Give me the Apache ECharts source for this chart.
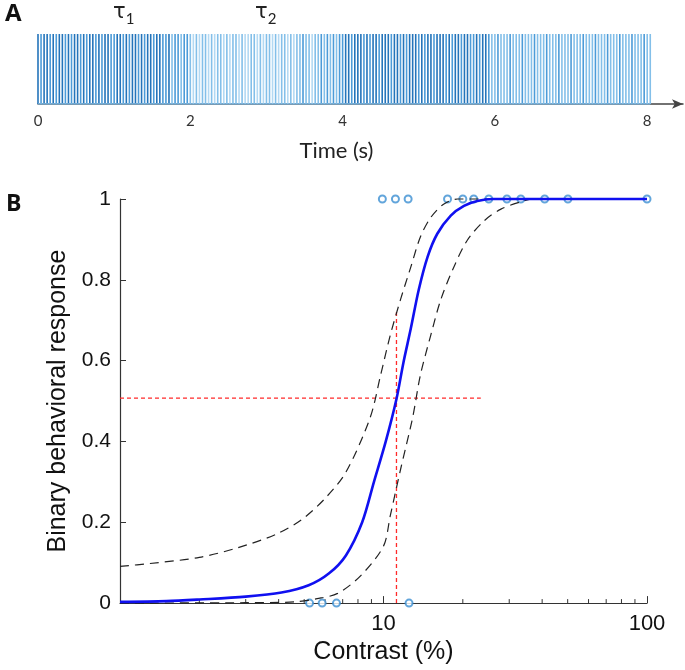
<!DOCTYPE html>
<html>
<head>
<meta charset="utf-8">
<script src="https://cdn.jsdelivr.net/npm/echarts@6/dist/echarts.min.js"></script>
<style>
  html, body { margin: 0; padding: 0; background: #fff; }
  #main { width: 685px; height: 670px; }
</style>
</head>
<body>
<div id="main"></div>
<script>
// panel A: spike train, one shade level per spike (0 light .. 3 dark), 25 Hz
var spikeDt = 0.04;
var spikeShade =
  '3233232332' + '3233232332' + '3233223323' + '2332323323' + '3223122122' +
  '1010110101' + '1010110100' + '1101011010' + '1101011211' + '0112121212' +
  '2332333232' + '3323332332' + '3233323233' + '2333232332' + '3322323321' +
  '1211121112' + '1112111211' + '1211121112' + '1112111211' + '1211121112' + '11';
var shadeColors = ['#b3d9f3', '#83bfe9', '#4c9bd8', '#2474ba'];
var timeTicks = [0, 2, 4, 6, 8];

// panel B: psychometric fit, contrast (%) vs response
var fitCurve = [[1, 0.003], [1.5, 0.005], [2, 0.009], [3, 0.016], [4.1, 0.026], [5.2, 0.044],
  [6.2, 0.073], [7.2, 0.118], [8.3, 0.2], [9.2, 0.3], [10.2, 0.4], [11.2, 0.505], [11.9, 0.595],
  [12.7, 0.68], [13.6, 0.775], [14.7, 0.857], [16, 0.914], [18, 0.959], [20.2, 0.983],
  [22.7, 0.995], [26, 1], [100, 1]];
var upperBound = [[1, 0.091], [1.3, 0.098], [2, 0.113], [2.8, 0.137], [3.9, 0.17], [4.9, 0.207],
  [6, 0.259], [7.2, 0.324], [8.9, 0.459], [9.75, 0.564], [10.6, 0.662], [11.6, 0.751],
  [12.7, 0.832], [13.8, 0.906], [15.1, 0.954], [16.9, 0.987], [19.1, 1], [100, 1]];
var lowerBound = [[1, 0], [3, 0.001], [4.6, 0.003], [5.6, 0.011], [6.7, 0.024], [8.2, 0.068],
  [10, 0.141], [10.6, 0.215], [11.6, 0.33], [12.9, 0.459], [13.8, 0.564], [15.1, 0.662],
  [16.5, 0.751], [18.5, 0.832], [20.8, 0.898], [24.1, 0.946], [27.9, 0.975], [33.2, 0.993],
  [37, 1], [100, 1]];
var hitContrast = [9.9, 11.1, 12.4, 17.5, 20, 22, 25.1, 29.4, 33.2, 40.9, 50.1, 100];
var missContrast = [5.24, 5.85, 6.63, 12.5];
var threshold = 11.2;
var thresholdLevel = 0.507;
var thresholdTop = 0.723;
var levelLineEnd = 23.4;
var minorTicks = [2, 3, 4, 5, 6, 7, 8, 9, 20, 30, 40, 50, 60, 70, 80, 90];

var spikes = [];
for (var i = 0; i < spikeShade.length; i++) {
  spikes.push({ value: [i * spikeDt, 1], itemStyle: { color: shadeColors[+spikeShade[i]] } });
}
var lastSpike = (spikeShade.length - 1) * spikeDt;

var dom = document.getElementById('main');
var myChart = echarts.init(dom);
var option;

option = {
  animation: false,
  backgroundColor: '#fff',
  grid: [
    { left: 38, right: 2, top: 34, bottom: 566 },
    { left: 120, right: 38, top: 199, bottom: 59 }
  ],
  xAxis: [
    {
      gridIndex: 0,
      type: 'value',
      min: 0,
      max: 8.47,
      interval: 2,
      offset: 3,
      splitLine: { show: false },
      axisTick: { show: false },
      axisLine: {
        lineStyle: { color: '#444', width: 1.5 },
        symbol: ['none', 'arrow'],
        symbolSize: [7, 11]
      },
      axisLabel: {
        showMaxLabel: false,
        margin: 7,
        color: '#333',
        fontFamily: 'Lato',
        fontSize: 15,
        formatter: function (v) { return timeTicks.indexOf(v) >= 0 ? String(v) : ''; }
      },
      name: 'Time (s)',
      nameLocation: 'middle',
      nameGap: 33,
      nameTextStyle: { color: '#222', fontFamily: 'Lato', fontSize: 22, padding: [0, 48, 0, 0] }
    },
    {
      gridIndex: 1,
      type: 'log',
      logBase: 10,
      min: 1,
      max: 100,
      splitLine: { show: false },
      axisLine: { lineStyle: { color: '#333', width: 1.2 } },
      axisTick: { inside: true, length: 7, lineStyle: { color: '#333' } },
      axisLabel: {
        showMinLabel: false,
        margin: 10,
        color: '#111',
        fontFamily: 'Liberation Sans',
        fontSize: 22
      },
      name: 'Contrast (%)',
      nameLocation: 'middle',
      nameGap: 35,
      nameTextStyle: { color: '#111', fontFamily: 'Liberation Sans', fontSize: 25 }
    }
  ],
  yAxis: [
    { gridIndex: 0, type: 'value', min: 0, max: 1, show: false },
    {
      gridIndex: 1,
      type: 'value',
      min: 0,
      max: 1,
      interval: 0.2,
      splitLine: { show: false },
      axisLine: { show: true, lineStyle: { color: '#333', width: 1.2 } },
      axisTick: { show: true, inside: true, length: 6, lineStyle: { color: '#333' } },
      axisLabel: {
        margin: 9,
        color: '#111',
        fontFamily: 'Liberation Sans',
        fontSize: 21,
        formatter: function (v) { return String(Math.round(v * 10) / 10); }
      },
      name: 'Binary behavioral response',
      nameLocation: 'middle',
      nameGap: 48,
      nameTextStyle: { color: '#111', fontFamily: 'Liberation Sans', fontSize: 25 }
    }
  ],
  graphic: [
    { type: 'text', left: 5, top: 2, style: { text: 'A', font: 'bold 24px "Open Sans"', fill: '#111' } },
    { type: 'text', left: 6, top: 193, style: { text: 'B', font: 'bold 23px "Open Sans"', fill: '#111' } },
    {
      type: 'text', left: 113, top: 2,
      style: {
        text: '{t|τ}{s|1}',
        rich: {
          t: { fontFamily: 'DejaVu Sans', fontSize: 21, fill: '#222', color: '#222' },
          s: { fontFamily: 'Lato', fontSize: 15, fill: '#222', color: '#222', padding: [13, 0, 0, 0] }
        }
      }
    },
    {
      type: 'text', left: 255, top: 2,
      style: {
        text: '{t|τ}{s|2}',
        rich: {
          t: { fontFamily: 'DejaVu Sans', fontSize: 21, fill: '#222', color: '#222' },
          s: { fontFamily: 'Lato', fontSize: 15, fill: '#222', color: '#222', padding: [13, 0, 0, 0] }
        }
      }
    }
  ],
  series: [
    {
      name: 'spikes',
      type: 'bar',
      xAxisIndex: 0,
      yAxisIndex: 0,
      barWidth: 1.6,
      data: spikes
    },
    {
      name: 'baseline',
      type: 'line',
      xAxisIndex: 0,
      yAxisIndex: 0,
      symbol: 'none',
      lineStyle: { color: '#7dbbe8', width: 1.5 },
      data: [[0, 0], [lastSpike, 0]]
    },
    {
      name: 'minor ticks',
      type: 'custom',
      xAxisIndex: 1,
      yAxisIndex: 1,
      data: minorTicks.map(function (v) { return [v, 0]; }),
      renderItem: function (params, api) {
        var p = api.coord([api.value(0), 0]);
        return {
          type: 'line',
          shape: { x1: p[0], y1: p[1], x2: p[0], y2: p[1] - 4 },
          style: { stroke: '#333', lineWidth: 1 }
        };
      }
    },
    {
      name: 'level',
      type: 'line',
      xAxisIndex: 1,
      yAxisIndex: 1,
      symbol: 'none',
      clip: false,
      lineStyle: { color: '#ff2a2a', width: 1.3, type: [4, 3] },
      data: [[1, thresholdLevel], [levelLineEnd, thresholdLevel]]
    },
    {
      name: 'threshold',
      type: 'line',
      xAxisIndex: 1,
      yAxisIndex: 1,
      symbol: 'none',
      clip: false,
      lineStyle: { color: '#ff2a2a', width: 1.3, type: [4, 3] },
      data: [[threshold, 0], [threshold, thresholdTop]]
    },
    {
      name: 'upper',
      type: 'line',
      xAxisIndex: 1,
      yAxisIndex: 1,
      symbol: 'none',
      smooth: 0.3,
      clip: false,
      lineStyle: { color: '#222', width: 1.2, type: [9, 6] },
      data: upperBound
    },
    {
      name: 'lower',
      type: 'line',
      xAxisIndex: 1,
      yAxisIndex: 1,
      symbol: 'none',
      smooth: 0.3,
      clip: false,
      lineStyle: { color: '#222', width: 1.2, type: [9, 6] },
      data: lowerBound
    },
    {
      name: 'fit',
      type: 'line',
      xAxisIndex: 1,
      yAxisIndex: 1,
      symbol: 'none',
      smooth: 0.3,
      clip: false,
      lineStyle: { color: '#1010f0', width: 2.6 },
      data: fitCurve
    },
    {
      name: 'responses',
      type: 'scatter',
      xAxisIndex: 1,
      yAxisIndex: 1,
      symbol: 'emptyCircle',
      symbolSize: 7,
      clip: false,
      itemStyle: { color: '#3b8fd2', borderColor: '#3b8fd2', borderWidth: 1.4 },
      data: hitContrast.map(function (c) { return [c, 1]; })
        .concat(missContrast.map(function (c) { return [c, 0]; }))
    }
  ]
};

if (option && typeof option === 'object') {
  myChart.setOption(option);
}
</script>
</body>
</html>
